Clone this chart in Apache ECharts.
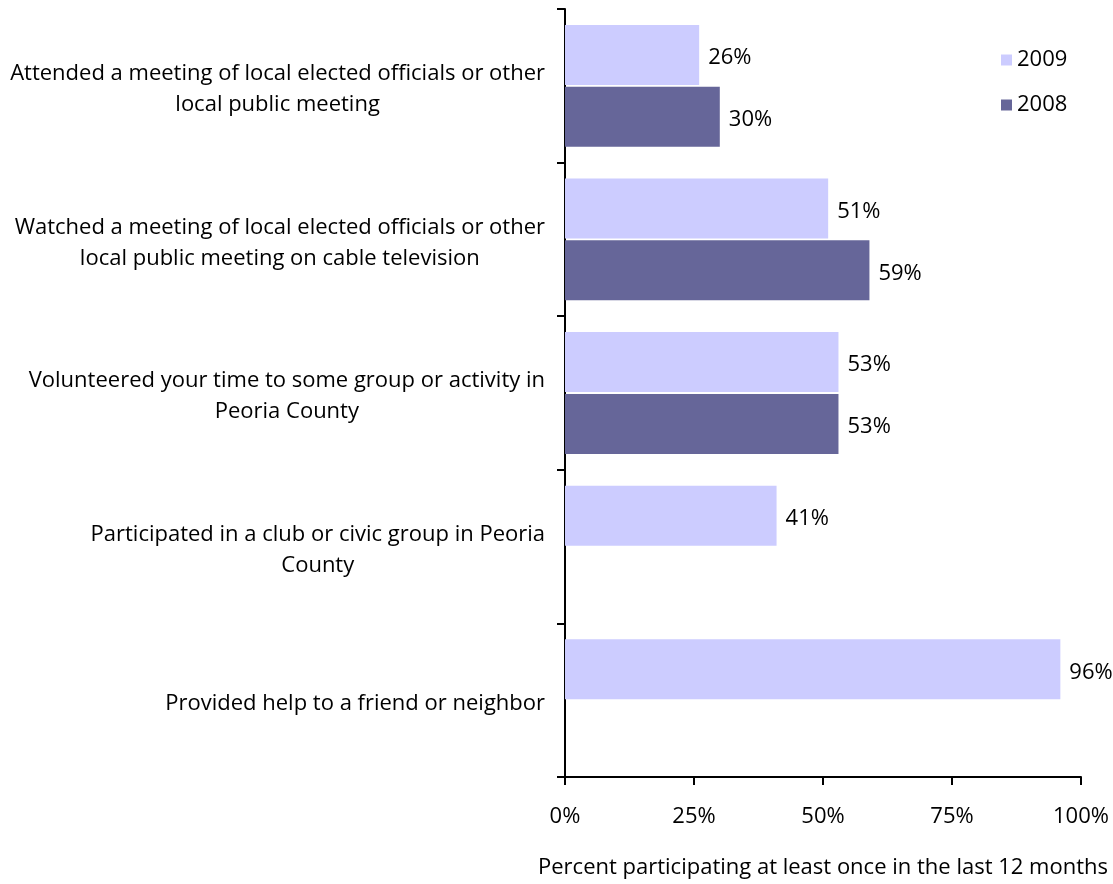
<!DOCTYPE html>
<html>
<head>
<meta charset="utf-8">
<script src="https://cdn.jsdelivr.net/npm/echarts@6/dist/echarts.min.js"></script>
<style>
  html, body { margin: 0; padding: 0; background: #fff; }
  #chart { width: 1113px; height: 884px; }
</style>
</head>
<body>
<div id="chart"></div>
<script>
// Civic participation activities (each label line is kept separately)
const categories = [
  ['Attended a meeting of local elected officials or other', 'local public meeting'],
  ['Watched a meeting of local elected officials or other', 'local public meeting on cable television'],
  ['Volunteered your time to some group or activity in', 'Peoria County'],
  ['Participated in a club or civic group in Peoria', 'County'],
  ['Provided help to a friend or neighbor']
];
const seriesNames = ['2009', '2008'];
const values2009 = [26, 51, 53, 41, 96];
const values2008 = [30, 59, 53, null, null];
const xTicks = [0, 25, 50, 75, 100];
const axisTitle = 'Percent participating at least once in the last 12 months';

const FONT = '"Open Sans"';
const FS = 22;

const chart = echarts.init(document.getElementById('chart'), null, { renderer: 'canvas' });

const barLabel = {
  show: true,
  position: 'right',
  distance: 9,
  offset: [0, 3],
  formatter: p => p.value + '%',
  color: '#000',
  fontFamily: FONT,
  fontSize: FS
};

chart.setOption({
  animation: false,
  backgroundColor: '#fff',
  grid: { left: 565, right: 32, top: 9, bottom: 104, containLabel: false },
  legend: {
    orient: 'vertical',
    left: 996,
    top: 44,
    itemWidth: 11,
    itemHeight: 11,
    itemGap: 23,
    icon: 'rect',
    textStyle: { fontFamily: FONT, fontSize: FS, color: '#000' },
    data: seriesNames
  },
  xAxis: {
    type: 'value',
    min: xTicks[0],
    max: xTicks[xTicks.length - 1],
    interval: 25,
    splitLine: { show: false },
    axisLine: { show: true, lineStyle: { color: '#000', width: 2 } },
    axisTick: { show: true, length: 8, lineStyle: { color: '#000', width: 2 } },
    axisLabel: {
      formatter: '{value}%',
      margin: 29,
      color: '#000',
      fontFamily: FONT,
      fontSize: FS
    },
    name: axisTitle,
    nameLocation: 'middle',
    nameGap: 80,
    nameTextStyle: { color: '#000', fontFamily: FONT, fontSize: FS }
  },
  yAxis: {
    type: 'category',
    inverse: true,
    data: categories.map(c => c.join('\n')),
    axisLine: { show: true, lineStyle: { color: '#000', width: 2 } },
    axisTick: { show: true, length: 8, lineStyle: { color: '#000', width: 2 } },
    axisLabel: {
      margin: 20,
      padding: [7, 0, 0, 0],
      color: '#000',
      fontFamily: FONT,
      fontSize: FS,
      formatter: v => v.split('\n').map(l => '{c|' + l + '}').join('\n'),
      rich: {
        c: { align: 'center', fontFamily: FONT, fontSize: FS, color: '#000', lineHeight: 31 }
      }
    }
  },
  series: [
    {
      name: seriesNames[0],
      type: 'bar',
      data: values2009,
      barWidth: 60,
      barGap: '3%',
      itemStyle: { color: '#CCCCFF' },
      label: barLabel
    },
    {
      name: seriesNames[1],
      type: 'bar',
      data: values2008,
      barWidth: 60,
      barGap: '3%',
      itemStyle: { color: '#666699' },
      label: barLabel
    }
  ]
});
</script>
</body>
</html>
